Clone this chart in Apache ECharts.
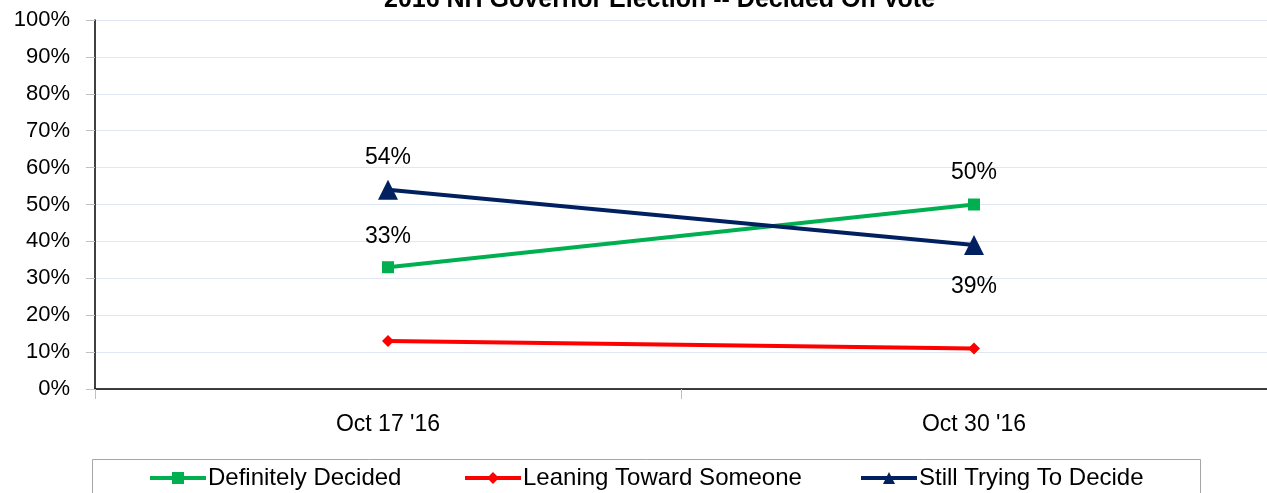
<!DOCTYPE html>
<html><head><meta charset="utf-8">
<script src="https://cdn.jsdelivr.net/npm/echarts@6/dist/echarts.min.js"></script>
<style>html,body{margin:0;padding:0;background:#fff}#c{width:1267px;height:493px}</style>
</head><body><div id="c"></div>
<script>
const categories = ["Oct 17 '16", "Oct 30 '16"];
const definitelyDecided = [33, 50];
const leaningToward = [13, 11];
const stillTrying = [54, 39];
const yTicks = [0, 10, 20, 30, 40, 50, 60, 70, 80, 90, 100];
const seriesNames = ['Definitely Decided', 'Leaning Toward Someone', 'Still Trying To Decide'];

const FONT = "Liberation Sans";
const legendLefts = [148, 463, 859];
const legends = seriesNames.map((n, i) => ({
  top: 466, left: legendLefts[i], padding: 0, itemWidth: 56, itemHeight: 15, itemGap: 0,
  lineStyle: {width: 4},
  textStyle: {fontSize: 24, color: '#000', fontFamily: FONT, padding: [0, 0, 0, -3]},
  data: [n]
}));

const chart = echarts.init(document.getElementById('c'), null, {renderer: 'canvas'});
chart.setOption({
  animation: false,
  textStyle: {fontFamily: FONT},
  title: {
    text: '2016 NH Governor Election -- Decided On Vote',
    left: 379, top: -17,
    textStyle: {fontSize: 25, fontWeight: 'bold', color: '#000', fontFamily: FONT}
  },
  graphic: [{
    type: 'rect', left: 92, top: 459, shape: {width: 1108, height: 40},
    style: {fill: '#fff', stroke: '#a6a6a6', lineWidth: 1}, z: -1
  }],
  legend: legends,
  grid: {left: 95, right: -2, top: 20, bottom: 104, containLabel: false},
  xAxis: {
    type: 'category', data: categories, boundaryGap: true,
    axisLine: {lineStyle: {color: '#000', width: 1.5}},
    axisTick: {show: true, length: 10, lineStyle: {color: '#bfbfbf'}},
    axisLabel: {fontSize: 23, color: '#000', margin: 24, fontFamily: FONT}
  },
  yAxis: {
    type: 'value', min: 0, max: 100, interval: 10,
    axisLine: {show: true, lineStyle: {color: '#000', width: 1.5}},
    axisTick: {show: true, length: 9, lineStyle: {color: '#bfbfbf'}},
    axisLabel: {fontSize: 22, color: '#000', margin: 25, fontFamily: FONT,
      formatter: v => yTicks.includes(v) ? v + '%' : ''},
    splitLine: {lineStyle: {color: '#dfe7f2', width: 1}}
  },
  series: [
    {name: seriesNames[0], type: 'line',
     symbol: 'rect', symbolSize: 12, color: '#00b050',
     lineStyle: {width: 4, color: '#00b050'}, itemStyle: {color: '#00b050'},
     label: {show: true, position: 'top', fontSize: 23, color: '#000', formatter: p => p.value + '%'},
     data: [
       {value: definitelyDecided[0], label: {distance: 13}},
       {value: definitelyDecided[1], label: {distance: 14}}
     ]},
    {name: seriesNames[1], type: 'line', data: leaningToward,
     symbol: 'diamond', symbolSize: 12, color: '#ff0000',
     lineStyle: {width: 4, color: '#ff0000'}, itemStyle: {color: '#ff0000'},
     label: {show: false}},
    {name: seriesNames[2], type: 'line',
     symbol: 'triangle', symbolSize: 20, color: '#002060',
     lineStyle: {width: 4, color: '#002060'}, itemStyle: {color: '#002060'},
     label: {show: true, fontSize: 23, color: '#000', formatter: p => p.value + '%'},
     data: [
       {value: stillTrying[0], label: {position: 'top', distance: 11}},
       {value: stillTrying[1], label: {position: 'bottom', distance: 20}}
     ]}
  ]
});
</script></body></html>
